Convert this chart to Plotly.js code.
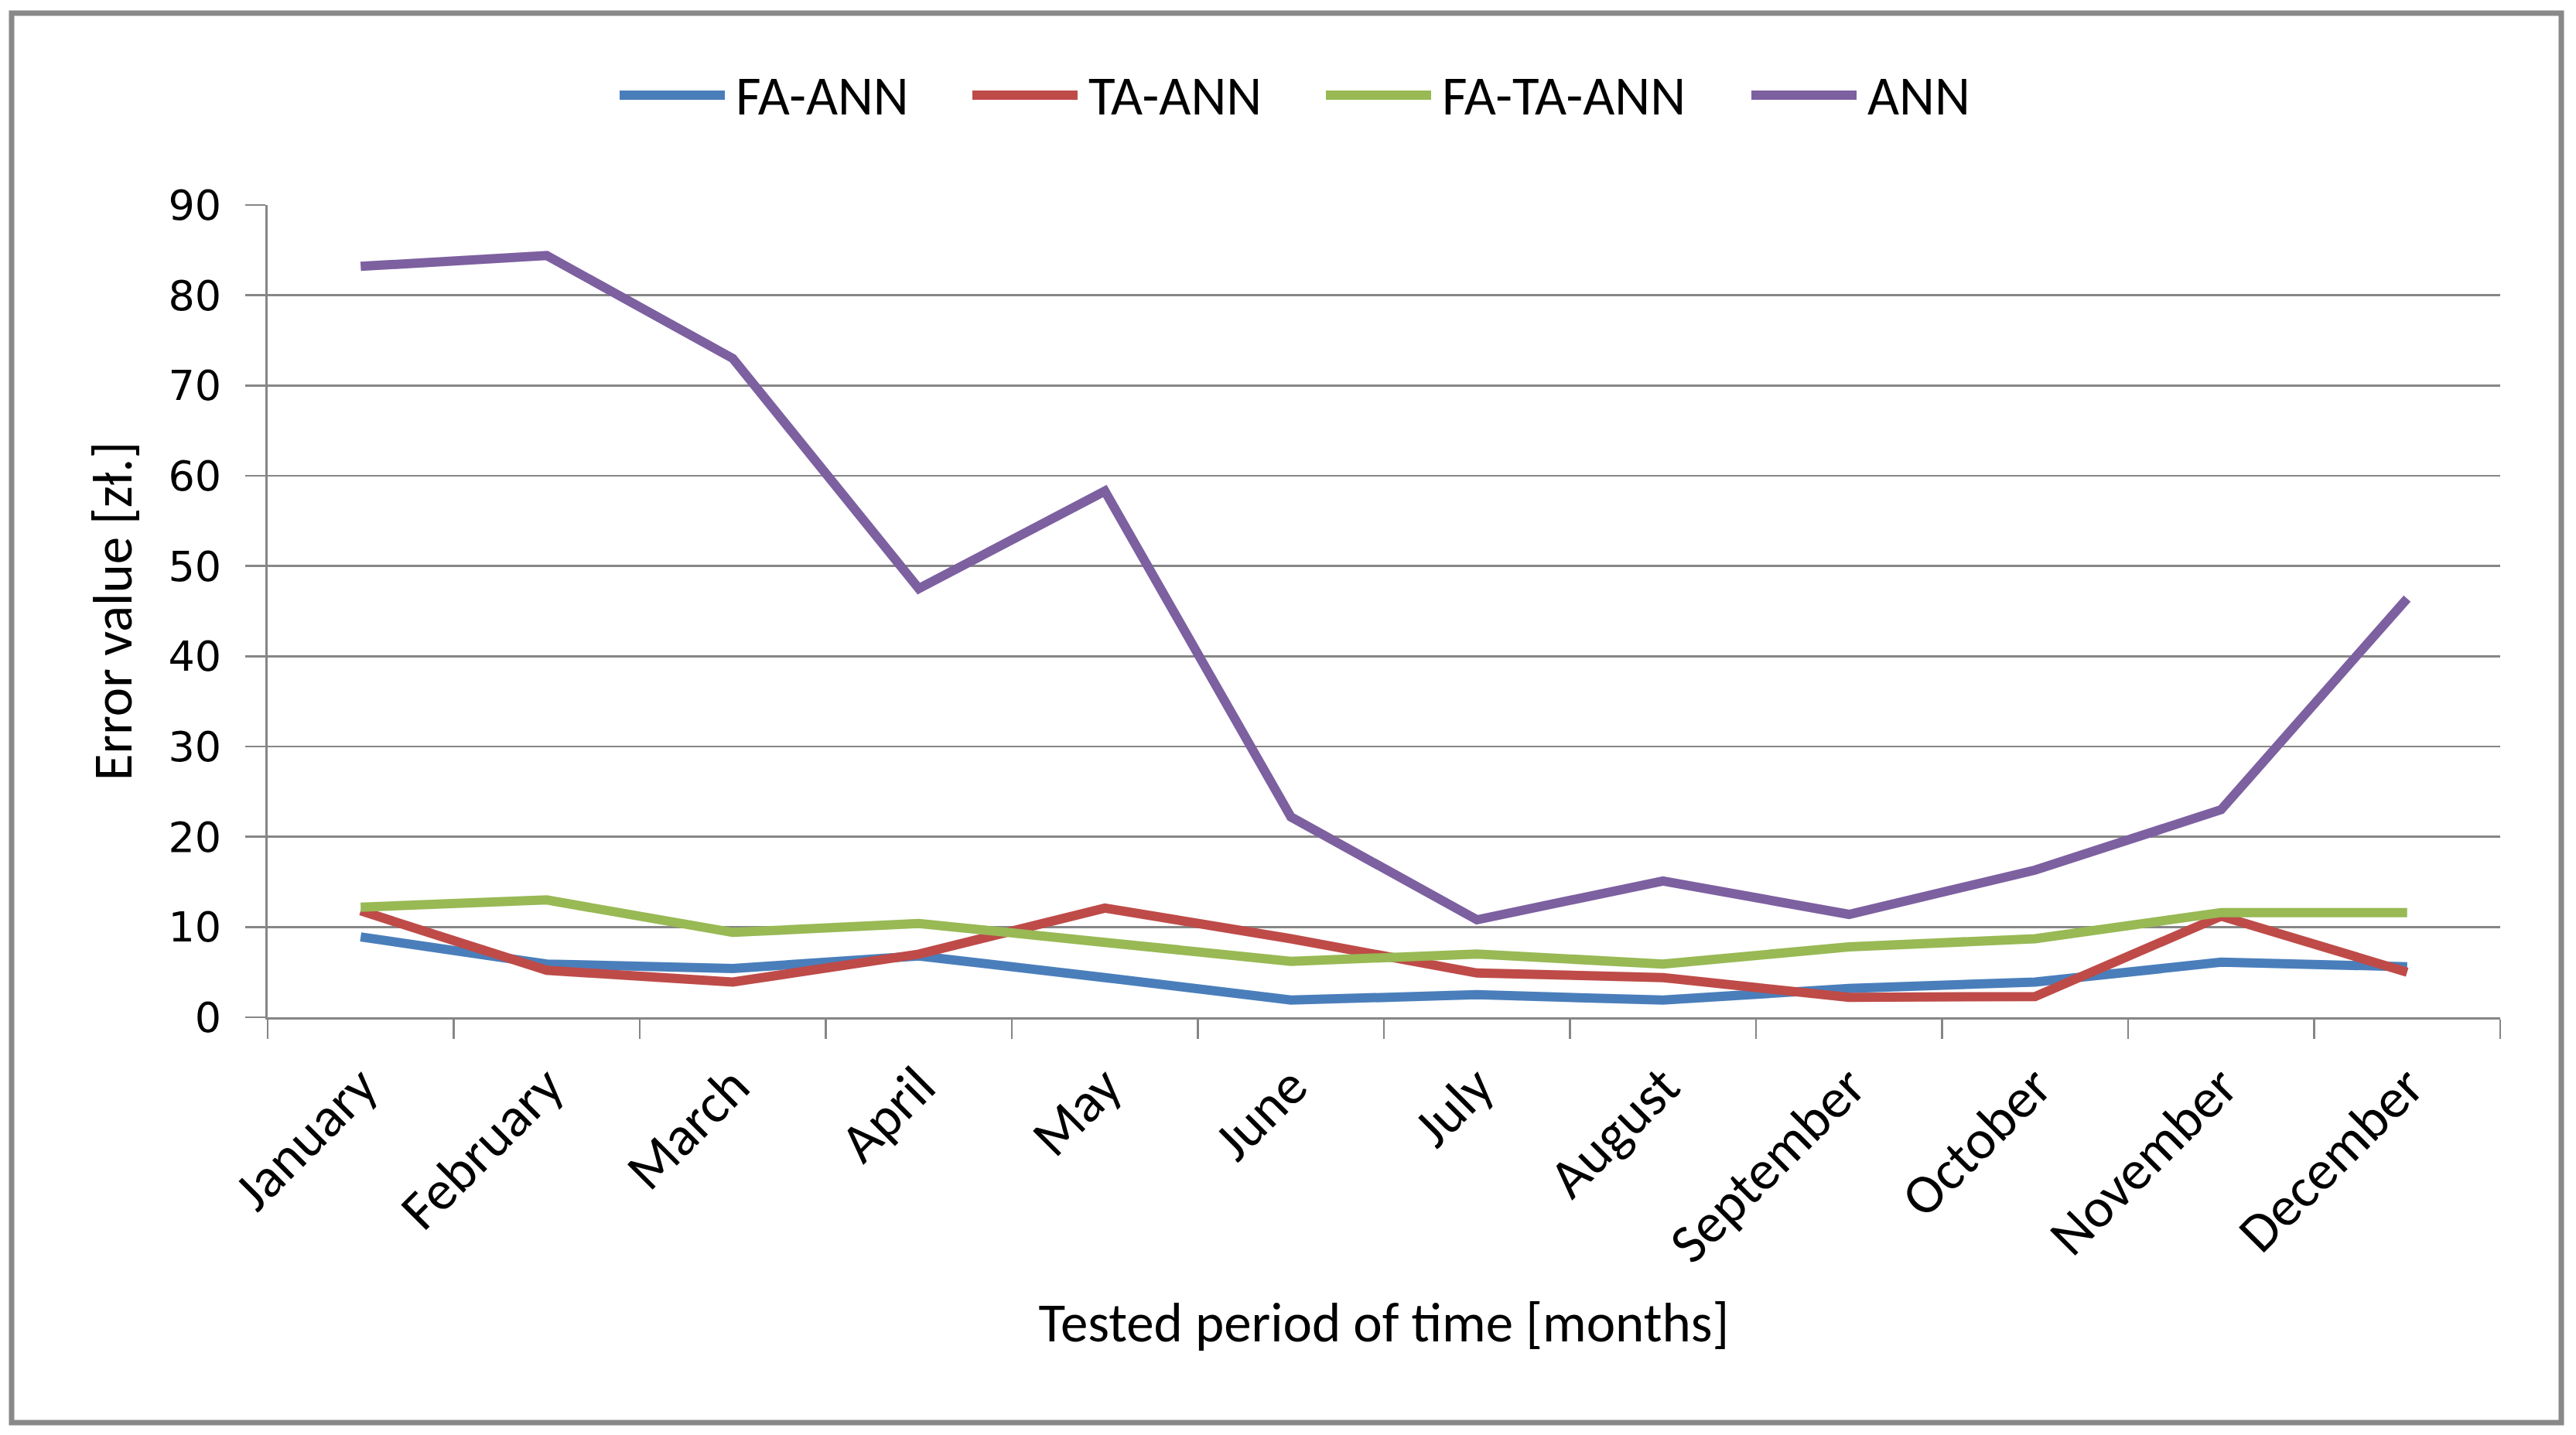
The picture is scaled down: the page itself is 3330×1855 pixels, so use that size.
<!DOCTYPE html>
<html>
<head>
<meta charset="utf-8">
<script src="https://cdn.plot.ly/plotly-3.0.1.min.js"></script>
<style>
  html, body { margin: 0; padding: 0; background: #ffffff; }
  #chart { width: 3330px; height: 1855px; }
</style>
</head>
<body>
<div id="chart"></div>
<script>
// ---- data ----
const months = ["January", "February", "March", "April", "May", "June",
                "July", "August", "September", "October", "November", "December"];
const seriesNames = ["FA-ANN", "TA-ANN", "FA-TA-ANN", "ANN"];
const faAnn   = [8.9, 5.9, 5.4, 6.8, 4.4, 1.9, 2.5, 1.9, 3.2, 3.9, 6.1, 5.6];
const taAnn   = [11.8, 5.2, 3.9, 7.0, 12.1, 8.7, 4.9, 4.4, 2.2, 2.3, 11.2, 5.0];
const faTaAnn = [12.2, 13.0, 9.4, 10.4, 8.3, 6.2, 7.0, 5.9, 7.8, 8.7, 11.6, 11.6];
const ann     = [83.2, 84.4, 73.0, 47.5, 58.3, 22.2, 10.8, 15.1, 11.4, 16.3, 23.0, 46.4];
const yTicks  = [0, 10, 20, 30, 40, 50, 60, 70, 80, 90];
const xTitle  = "Tested period of time [months]";
const yTitle  = "Error value [zł.]";

// ---- styling ----
const colors = ["#4A7EBB", "#BE4B48", "#98B954", "#7D60A0"];
const values = [faAnn, taAnn, faTaAnn, ann];
const FONT = "Carlito, Lato, 'Open Sans', sans-serif";
const NUMFONT = "'DejaVu Sans', Verdana, sans-serif";
const GRID = "#868686";
const FS = 71;

const W = 3330, H = 1855;
const L = 346, R = 3232, T = 265, B = 1315;
const pw = R - L, ph = B - T;
const px2x = p => (p - L) / pw;
const py2y = p => (B - p) / ph;

const traces = seriesNames.map((name, i) => ({
  type: "scatter",
  mode: "lines",
  name: name,
  x: months,
  y: values[i],
  line: { color: colors[i], width: 12 },
  showlegend: false,
  hoverinfo: "x+y+name"
}));

// custom legend (long line samples as in the reference)
const legLineStart = [801, 1257, 1714, 2264];
const legLineLen = 136;
const legY = 123;
const shapes = [];
const annotations = [];
seriesNames.forEach((name, i) => {
  shapes.push({
    type: "line", xref: "paper", yref: "paper",
    x0: px2x(legLineStart[i]), x1: px2x(legLineStart[i] + legLineLen),
    y0: py2y(legY), y1: py2y(legY),
    line: { color: colors[i], width: 12 }
  });
  annotations.push({
    xref: "paper", yref: "paper",
    x: px2x(legLineStart[i] + legLineLen + 12), y: py2y(legY),
    xanchor: "left", yanchor: "middle",
    text: name, showarrow: false,
    font: { family: FONT, size: FS, color: "#000000" }
  });
});
// outer chart border
shapes.push({
  type: "rect", xref: "paper", yref: "paper",
  x0: px2x(15), x1: px2x(3311), y0: py2y(1839), y1: py2y(17),
  line: { color: "#898989", width: 7 }, fillcolor: "rgba(0,0,0,0)", layer: "below"
});

const layout = {
  width: W, height: H,
  margin: { l: L, r: W - R, t: T, b: H - B, pad: 0 },
  paper_bgcolor: "#ffffff",
  plot_bgcolor: "#ffffff",
  font: { family: FONT, size: FS, color: "#000000" },
  showlegend: false,
  xaxis: {
    type: "category",
    range: [-0.5, months.length - 0.5],
    tickson: "boundaries",
    ticks: "outside", ticklen: 25, tickwidth: 2.5, tickcolor: GRID,
    tickangle: -45,
    ticklabelstandoff: 15,
    tickfont: { family: FONT, size: 72, color: "#000000" },
    showline: true, linecolor: GRID, linewidth: 3,
    showgrid: false, zeroline: false,
    title: { text: xTitle, font: { family: FONT, size: FS, color: "#000000" }, standoff: 36 }
  },
  yaxis: {
    range: [0, 90],
    tickvals: yTicks,
    ticks: "outside", ticklen: 26, tickwidth: 2.5, tickcolor: GRID,
    ticklabelstandoff: 20,
    tickfont: { family: NUMFONT, size: 54, color: "#000000" },
    showline: true, linecolor: GRID, linewidth: 3,
    showgrid: true, gridcolor: GRID, gridwidth: 2.5,
    zeroline: false,
    title: { text: yTitle, font: { family: FONT, size: FS, color: "#000000" }, standoff: 24 }
  },
  shapes: shapes,
  annotations: annotations
};

Plotly.newPlot("chart", traces, layout, { displayModeBar: false, staticPlot: true });
</script>
</body>
</html>
